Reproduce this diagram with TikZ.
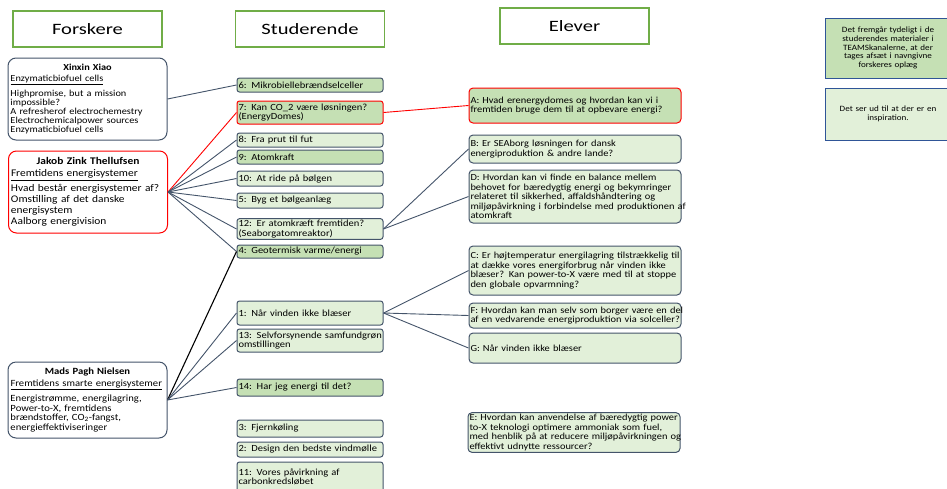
\documentclass[tikz,border=0pt]{standalone}
\usepackage{fontspec}
\setmainfont{Carlito}[FakeStretch=1.12]
\newfontfamily\hdrfont{Carlito}[FakeStretch=1.3]
\definecolor{slate}{HTML}{44546A}
\definecolor{gmed}{HTML}{C5E0B4}
\definecolor{glight}{HTML}{E2F0D9}
\definecolor{hgreen}{HTML}{70AD47}
\definecolor{fblue}{HTML}{2F5597}
\newcommand\lnx[1]{\mbox{#1}}
\tikzset{
  hdr/.style={draw=hgreen, line width=1.3pt, fill=white, minimum width=149pt, minimum height=36pt, inner sep=0pt, font=\hdrfont\fontsize{15.8}{19}\selectfont},
  res/.style={draw=slate, line width=1pt, rounded corners=8pt, fill=white, text width=154pt, inner sep=2.5pt, align=left, font=\fontsize{9.2}{9.2}\selectfont},
  stu/.style={draw=slate, line width=1pt, rounded corners=2.5pt, text width=143pt, inner sep=1.5pt, align=left, font=\fontsize{9.4}{9.5}\selectfont},
  elv/.style={draw=slate, line width=1pt, rounded corners=4pt, text width=209pt, inner sep=1.5pt, align=left, font=\fontsize{9.3}{9.6}\selectfont},
  note/.style={draw=fblue, line width=1pt, text width=124pt, minimum width=126pt, inner sep=1pt, align=center, font=\fontsize{8.1}{8.8}\selectfont},
  med/.style={fill=gmed},
  lig/.style={fill=glight},
  redb/.style={draw=red},
  con/.style={draw=slate, line width=0.9pt},
  conr/.style={draw=red, line width=0.9pt},
  conk/.style={draw=black, line width=1.1pt}
}
\begin{document}
\begin{tikzpicture}[x=1pt,y=-1pt]
\useasboundingbox (0,0) rectangle (947,488);
\clip (0,0) rectangle (947,488);
% headers
\node[hdr] (hF) at (87.5,29) {Forskere};
\node[hdr] (hS) at (310,29) {Studerende};
\node[hdr] (hE) at (574.5,26) {Elever};
% researchers
\node[res, minimum height=82pt] (xx) at (87.5,99) {\makebox[\hsize]{\textbf{Xinxin Xiao}}\\[2pt]\underline{Enzymaticbiofuel cells}\\[4pt]\lnx{Highpromise, but a mission}\\\lnx{impossible?}\\\lnx{A refresherof electrochemestry}\\\lnx{Electrochemicalpower sources}\\\lnx{Enzymaticbiofuel cells}};
\node[res, redb, minimum height=82pt, font=\fontsize{10.2}{11.3}\selectfont] (jz) at (88,192) {\makebox[\hsize]{\textbf{Jakob Zink Thellufsen}}\\[1pt]\underline{Fremtidens energisystemer}\\[3pt]\lnx{Hvad består energisystemer af?}\\\lnx{Omstilling af det danske}\\\lnx{energisystem}\\\lnx{Aalborg energivision}};
\node[res, minimum height=76pt, font=\fontsize{9.5}{9.5}\selectfont] (mp) at (87.5,400) {\makebox[\hsize]{\textbf{Mads Pagh Nielsen}}\\[2pt]\underline{Fremtidens smarte energisystemer}\\[4pt]\lnx{Energistrømme, energilagring,}\\\lnx{Power-to-X, fremtidens}\\\lnx{brændstoffer, CO\textsubscript{2}-fangst,}\\\lnx{energieffektiviseringer}};
% students
\node[stu, med, minimum height=14pt] (m6) at (310,85) {\lnx{6: Mikrobiellebrændselceller}};
\node[stu, med, redb, minimum height=23pt] (m7) at (310,112.5) {\lnx{7: Kan CO\_2 være løsningen?}\\\lnx{(EnergyDomes)}};
\node[stu, lig, minimum height=14pt] (m8) at (310,140) {\lnx{8: Fra prut til fut}};
\node[stu, med, minimum height=14pt] (m9) at (310,157) {\lnx{9: Atomkraft}};
\node[stu, lig, minimum height=15pt] (m10) at (310,178.5) {\lnx{10: At ride på bølgen}};
\node[stu, lig, minimum height=15pt] (m5) at (310,200.5) {\lnx{5: Byg et bølgeanlæg}};
\node[stu, lig, minimum height=20pt] (m12) at (310,229) {\lnx{12: Er atomkræft fremtiden?}\\\lnx{(Seaborgatomreaktor)}};
\node[stu, med, minimum height=13pt] (m4) at (310,251.5) {\lnx{4: Geotermisk varme/energi}};
\node[stu, lig, minimum height=24pt] (m1) at (310,313) {\lnx{1: Når vinden ikke blæser}};
\node[stu, lig, minimum height=23pt] (m13) at (310,340.5) {\lnx{13: Selvforsynende samfundgrøn}\\\lnx{omstillingen}};
\node[stu, med, minimum height=17pt] (m14) at (310,387.5) {\lnx{14: Har jeg energi til det?}};
\node[stu, lig, minimum height=17pt] (m3) at (310,428.5) {\lnx{3: Fjernkøling}};
\node[stu, lig, minimum height=15pt] (m2) at (310,449.5) {\lnx{2: Design den bedste vindmølle}};
\node[stu, lig, minimum height=30pt] (m11) at (310,477) {\lnx{11: Vores påvirkning af}\\\lnx{carbonkredsløbet}};
% pupils
\node[elv, med, redb, minimum height=35pt] (eA) at (575,105.5) {\lnx{A: Hvad erenergydomes og hvordan kan vi i}\\\lnx{fremtiden bruge dem til at opbevare energi?}};
\node[elv, lig, minimum height=28pt] (eB) at (575,149) {\lnx{B: Er SEAborg løsningen for dansk}\\\lnx{energiproduktion \& andre lande?}};
\node[elv, lig, minimum height=53pt] (eD) at (575,196.5) {\lnx{D: Hvordan kan vi finde en balance mellem}\\\lnx{behovet for bæredygtig energi og bekymringer}\\\lnx{relateret til sikkerhed, affaldshåndtering og}\\\lnx{miljøpåvirkning i forbindelse med produktionen af}\\\lnx{atomkraft}};
\node[elv, lig, minimum height=49pt] (eC) at (575,270.5) {\lnx{C: Er højtemperatur energilagring tilstrækkelig til}\\\lnx{at dække vores energiforbrug når vinden ikke}\\\lnx{blæser? Kan power-to-X være med til at stoppe}\\\lnx{den globale opvarmning?}};
\node[elv, lig, minimum height=25pt] (eF) at (575,315.5) {\lnx{F: Hvordan kan man selv som borger være en del}\\\lnx{af en vedvarende energiproduktion via solceller?}};
\node[elv, lig, minimum height=30pt] (eG) at (575,348) {\lnx{G: Når vinden ikke blæser}};
\node[elv, lig, minimum height=39pt] (eE) at (574,432.5) {\lnx{E: Hvordan kan anvendelse af bæredygtig power}\\\lnx{to-X teknologi optimere ammoniak som fuel,}\\\lnx{med henblik på at reducere miljøpåvirkningen og}\\\lnx{effektivt udnytte ressourcer?}};
% notes
\node[note, med, minimum height=60pt] (n1) at (888,48) {Det fremgår tydeligt i de\\studerendes materialer i\\TEAMSkanalerne, at der\\tages afsæt i navngivne\\forskeres oplæg};
\node[note, lig, minimum height=52pt] (n2) at (888,114) {Det ser ud til at der er en\\inspiration.};
% connectors
\draw[con] (xx.east) -- (m6.west);
\draw[conr] (jz.east) -- (m7.west);
\foreach \t in {m8,m9,m10,m5,m12,m4} \draw[con] (jz.east) -- (\t.west);
\draw[conk] (mp.east) -- (m4.west);
\foreach \t in {m1,m13,m14} \draw[con] (mp.east) -- (\t.west);
\draw[conr] (m7.east) -- (eA.west);
\draw[con] (m12.east) -- (eB.west);
\draw[con] (m12.east) -- (eD.west);
\foreach \t in {eC,eF,eG} \draw[con] (m1.east) -- (\t.west);
\end{tikzpicture}
\end{document}
